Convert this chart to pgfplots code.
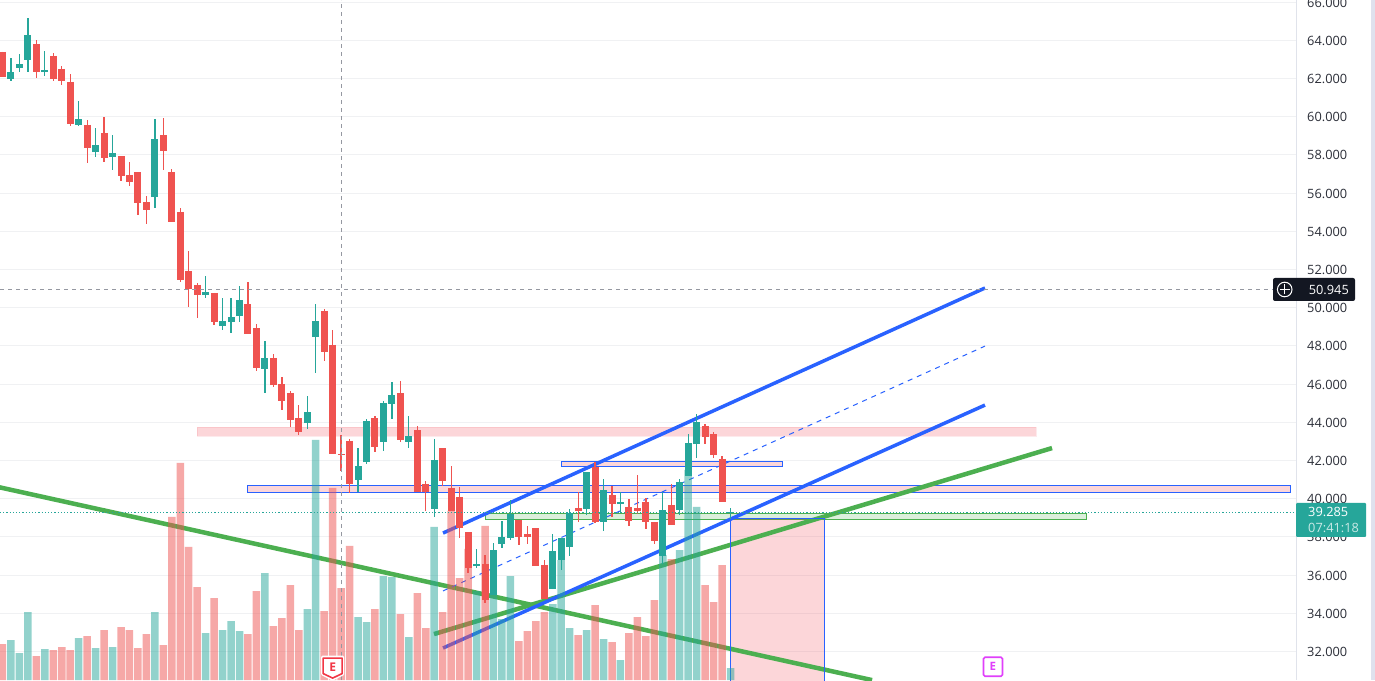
\documentclass[border=0pt]{standalone}
\usepackage{fontspec}
\setmainfont{Open Sans}
\usepackage{pgfplots}
\usepackage{pgfplotstable}
\usetikzlibrary{calc}
\pgfplotsset{compat=1.18}
\definecolor{tvred}{HTML}{EF5350}
\definecolor{tvteal}{HTML}{26A69A}
\definecolor{tvblue}{HTML}{2962FF}
\definecolor{tvgreen}{HTML}{4CAF50}
\definecolor{tvpink}{HTML}{F23645}
\definecolor{tvgrid}{HTML}{F0F1F3}
\definecolor{tvgray}{HTML}{9598A1}
\definecolor{tvdark}{HTML}{131722}
\definecolor{tvline}{HTML}{E0E3EB}
\definecolor{tvmag}{HTML}{E040FB}
\definecolor{tvstrip}{HTML}{DFE1EE}
\pgfplotstableread{
i o h l c v
1 61.97 63.07 61.87 62.34 40
2 62.55 63.28 62.34 62.76 27
3 62.97 65.17 62.34 64.28 68
5 62.34 63.44 62.13 62.46 31
9 59.57 60.82 59.51 59.88 42
11 58.15 59.41 57.89 58.52 32
13 57.89 59.04 57.21 58.10 33
18 55.79 59.88 55.22 58.83 68
24 50.66 51.66 50.51 50.82 47
26 49.04 50.51 48.83 49.30 50
27 49.25 50.51 48.67 49.51 59
28 49.56 51.13 49.25 50.40 49
31 46.79 48.25 45.53 47.37 107
36 43.96 45.38 43.65 44.54 71
37 48.46 50.19 46.58 49.30 240
42 40.98 42.65 40.35 41.71 63
43 41.92 44.17 41.81 44.07 58
45 42.97 45.11 42.50 45.01 104
46 44.96 46.11 44.17 45.43 103
48 42.97 44.33 42.65 43.28 43
51 39.46 43.12 39.04 42.02 153
56 36.47 37.36 36.37 36.58 89
58 34.96 37.68 34.96 37.31 85
59 37.63 38.83 37.42 37.99 61
60 37.94 39.93 37.84 39.20 104
65 35.27 38.15 35.27 37.26 76
66 36.79 37.94 36.26 37.94 120
67 37.47 39.46 37.00 39.25 52
69 39.46 41.40 39.14 41.40 50
71 38.78 41.03 38.31 40.45 41
73 39.72 40.35 39.25 39.83 20
78 37.00 40.35 36.58 39.41 125
80 39.41 41.03 39.14 40.87 130
81 41.19 43.38 41.19 42.91 210
82 42.86 44.43 42.13 44.01 173
86 39.24 39.51 38.93 39.285 12
}\upbars
\pgfplotstableread{
i o h l c v
0 63.39 63.39 62.08 62.08 36
4 63.81 64.02 62.03 62.34 24
6 63.18 63.34 61.87 61.97 30
7 62.50 62.65 61.66 61.87 33
8 61.82 62.24 59.51 59.62 30
10 59.57 59.83 57.58 58.36 44
12 59.15 59.98 57.63 57.84 50
14 57.94 57.94 56.63 56.89 53
15 56.95 57.63 56.37 56.58 50
16 57.10 57.10 54.85 55.48 32
17 55.53 55.85 54.38 55.11 46
19 59.04 59.93 57.21 58.20 35
20 57.10 57.26 54.49 54.49 163
21 55.01 55.22 51.34 51.45 217
22 51.92 52.97 50.03 50.98 133
23 51.19 51.29 49.46 50.66 93
25 50.77 50.77 49.09 49.25 82
29 50.19 51.34 48.62 48.62 46
30 48.93 49.15 46.68 46.84 89
32 47.37 47.57 45.85 45.95 54
33 46.00 46.37 44.64 45.11 62
34 45.53 45.64 43.75 44.12 95
35 44.22 44.90 43.33 43.49 50
38 49.83 49.93 47.21 47.68 69
39 48.05 48.83 42.34 42.34 192
40 42.34 43.33 41.45 42.28 92
41 43.02 43.12 40.30 40.77 134
44 44.22 44.33 42.44 42.70 71
47 45.53 46.16 42.97 43.07 66
49 43.59 43.80 40.35 40.35 87
50 40.77 40.92 39.35 40.35 52
52 42.65 42.65 40.66 40.92 68
53 40.56 41.71 39.35 39.35 169
54 40.09 40.61 37.94 38.46 102
55 38.25 38.25 36.11 36.37 131
57 36.58 37.05 34.54 34.69 154
61 38.88 38.88 37.57 37.99 39
62 38.15 38.57 37.63 37.99 49
63 38.46 38.46 36.47 36.47 59
64 36.53 36.79 34.75 34.75 68
68 39.51 40.35 38.78 39.35 45
70 41.66 41.92 38.73 38.78 75
72 40.19 40.66 39.04 39.72 38
74 39.56 39.98 38.57 38.83 47
75 39.51 41.24 39.20 39.35 63
76 39.83 40.03 38.41 38.78 44
77 38.78 38.78 37.63 37.78 80
79 39.67 40.77 38.62 38.62 121
83 43.80 43.91 42.86 43.23 95
84 43.38 43.49 42.13 42.29 78
85 42.08 42.23 39.83 39.83 115
}\downbars
\pgfplotsset{
  chartbase/.style={scale only axis, width=1296pt, height=680pt,
    xmin=-0.295, xmax=152.8},
  pricebase/.style={chartbase, ymin=30.506, ymax=66.11},
  trend/.style={line width=#1, line cap=butt},
  wicks/.style={draw=none, mark=none, forget plot,
    error bars/.cd, y dir=both, y explicit, error mark=none,
    error bar style={line width=1.3pt, color=#1}},
  bodies/.style={draw=none, mark=none, forget plot,
    error bars/.cd, y dir=both, y explicit, error mark=none,
    error bar style={line width=7pt, color=#1}},
}
\newcommand{\candles}[2]{%
  \addplot[wicks=#2] table[x=i, y=o,
    y error plus expr={\thisrow{h}-\thisrow{o}},
    y error minus expr={\thisrow{o}-\thisrow{l}}] {#1};
  \addplot[bodies=#2] table[x=i, y=o,
    y error plus expr={max(\thisrow{c}-\thisrow{o},0)},
    y error minus expr={max(\thisrow{o}-\thisrow{c},0)}] {#1};
}
\begin{document}
\begin{tikzpicture}
\path[use as bounding box, clip] (0,0) rectangle (1375pt,680pt);
\fill[white] (0,0) rectangle (1375pt,680pt);
\fill[tvstrip] (1371pt,0) rectangle (1375pt,680pt);
% layer 1: grid, price scale, drawings
\begin{axis}[pricebase,
  axis x line=none, axis y line=right,
  y axis line style={-, draw=tvline, line width=1pt},
  ytick={32,34,...,66},
  xtick={1.98,12.97,33.96,53.96,75.04,95.07,115.0,126.0,138.1},
  xticklabels={},
  grid=major, grid style={tvgrid, line width=1pt},
  major tick length=0pt,
  yticklabel style={/pgf/number format/.cd, fixed, fixed zerofill, precision=3,
    assume math mode=true, /tikz/.cd, font=\fontsize{12.8}{15}\selectfont,
    text=tvdark!90, anchor=west, inner sep=0pt, xshift=11pt, yshift=-0.5pt},
]
% areas
\addplot[fill=tvpink, fill opacity=.2, draw=tvpink, draw opacity=.1, line width=1pt, forget plot]
  coordinates {(23,43.28)(23,43.75)(122.1,43.75)(122.1,43.28)} -- cycle;
\addplot[fill=tvpink, fill opacity=.2, draw=tvblue, line width=1pt, forget plot]
  coordinates {(29,40.31)(29,40.70)(152.2,40.70)(152.2,40.31)} -- cycle;
\addplot[fill=tvpink, fill opacity=.2, draw=tvblue, line width=1pt, forget plot]
  coordinates {(65.98,41.67)(65.98,41.95)(92.08,41.95)(92.08,41.67)} -- cycle;
\addplot[fill=tvgreen, fill opacity=.2, draw=tvgreen, line width=1pt, forget plot]
  coordinates {(57,38.92)(57,39.20)(128.1,39.20)(128.1,38.92)} -- cycle;
\addplot[fill=tvpink, fill opacity=.2, draw=none, forget plot]
  coordinates {(85.94,30)(85.94,38.95)(97.1,38.95)(97.1,30)} -- cycle;
% trend lines
\addplot[tvgreen, trend=4.5pt, forget plot] coordinates {(-0.5,40.61)(102.72,30.50)};
\addplot[tvgreen, trend=4.5pt, forget plot] coordinates {(50.97,32.91)(123.98,42.65)};
\addplot[tvblue, line width=1pt, forget plot]
  coordinates {(85.94,30)(85.94,38.95)(97.1,38.95)(97.1,30)};
\addplot[tvblue, trend=3.5pt, forget plot] coordinates {(52.04,38.20)(116.06,51.03)};
\addplot[tvblue, trend=1pt, dash pattern=on 5pt off 5pt, forget plot] coordinates {(52.04,35.17)(116.06,47.99)};
\addplot[tvblue, trend=3.5pt, forget plot] coordinates {(52.04,32.18)(116.06,44.90)};
\end{axis}
% layer 2: volume
\begin{axis}[chartbase, ymin=0, ymax=680, hide axis, ybar, bar width=7.5pt, bar shift=0pt]
\addplot[fill=tvteal, fill opacity=.5, draw=none, forget plot] table[x=i, y=v] {\upbars};
\addplot[fill=tvred, fill opacity=.5, draw=none, forget plot] table[x=i, y=v] {\downbars};
\end{axis}
% layer 3: candles, price lines, markers
\begin{axis}[pricebase, hide axis]
\candles{\upbars}{tvteal}
\candles{\downbars}{tvred}
\addplot[tvteal, line width=1pt, dash pattern=on 1.2pt off 2pt, forget plot]
  coordinates {(-0.295,39.285)(152.8,39.285)};
\addplot[tvgray, line width=1pt, dash pattern=on 4pt off 4pt, forget plot]
  coordinates {(-0.295,50.945)(152.8,50.945)};
\addplot[tvgray, line width=1pt, dash pattern=on 4pt off 4pt, forget plot]
  coordinates {(40,30.506)(40,66.11)};
% earnings markers
\path (axis cs:39,31.13) coordinate (S) (axis cs:117,31.2) coordinate (P);
\draw[white, line width=3pt, fill=white, line join=round]
  ($(S)+(-10pt,11pt)$) -- ($(S)+(10pt,11pt)$) -- ($(S)+(10pt,-6pt)$) -- ($(S)+(0pt,-11pt)$) -- ($(S)+(-10pt,-6pt)$) -- cycle;
\draw[tvpink, line width=1.6pt, fill=white, line join=round]
  ($(S)+(-9.5pt,10pt)$) -- ($(S)+(9.5pt,10pt)$) -- ($(S)+(9.5pt,-5.5pt)$) -- ($(S)+(0pt,-10pt)$) -- ($(S)+(-9.5pt,-5.5pt)$) -- cycle;
\node[text=tvpink, font=\fontsize{12}{12}\selectfont\bfseries, inner sep=0pt] at ($(S)+(0pt,0.5pt)$) {E};
\draw[tvmag, line width=1.6pt, fill=white, rounded corners=1.5pt]
  ($(P)+(-9.5pt,-9.5pt)$) rectangle ($(P)+(9.5pt,9.5pt)$);
\node[text=tvmag, font=\fontsize{11.5}{12}\selectfont\bfseries, inner sep=0pt] at (P) {E};
\end{axis}
% price tags on the scale
\fill[tvteal, rounded corners=1pt] (1296pt,143pt) rectangle (1366pt,177pt);
\node[text=white, font=\fontsize{12.8}{15}\selectfont, anchor=west, inner sep=0pt] at (1308pt,168.5pt) {39.285};
\node[text=white!75!tvteal, font=\fontsize{12.8}{15}\selectfont, anchor=west, inner sep=0pt] at (1308pt,152pt) {07:41:18};
\fill[tvdark, rounded corners=2pt] (1273pt,379pt) rectangle (1355pt,402pt);
\draw[white, line width=1pt] (1284.7pt,390.5pt) circle (7.3pt);
\draw[white, line width=1pt] (1279.7pt,390.5pt) -- (1289.7pt,390.5pt) (1284.7pt,385.5pt) -- (1284.7pt,395.5pt);
\node[text=white, font=\fontsize{12.8}{15}\selectfont, anchor=east, inner sep=0pt] at (1349pt,390.5pt) {50.945};
\end{tikzpicture}
\end{document}
